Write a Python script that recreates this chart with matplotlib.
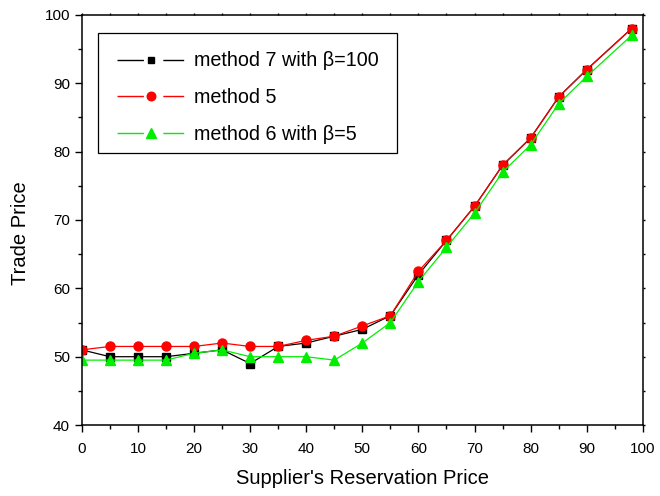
import matplotlib
matplotlib.use("Agg")
import matplotlib.pyplot as plt
from matplotlib.lines import Line2D
from matplotlib.patches import Rectangle
from matplotlib.legend_handler import HandlerTuple
from matplotlib.ticker import MultipleLocator

plt.rcParams["font.family"] = ["Liberation Sans", "DejaVu Sans"]

# supplier's reservation price
x = [0, 5, 10, 15, 20, 25, 30, 35, 40, 45, 50, 55, 60, 65, 70, 75, 80, 85, 90, 98]

# trade price per method
m7 = [51, 50, 50, 50, 50.5, 51, 49, 51.5, 52, 53, 54, 56, 62, 67, 72, 78, 82, 88, 92, 98]
m5 = [51, 51.5, 51.5, 51.5, 51.5, 52, 51.5, 51.5, 52.4, 53, 54.5, 56, 62.5, 67, 72, 78, 82, 88, 92, 98]
m6 = [49.5, 49.5, 49.5, 49.5, 50.5, 51, 50, 50, 50, 49.5, 52, 55, 61, 66, 71, 77, 81, 87, 91, 97]

labels = ["method 7 with \u03b2=100", "method 5", "method 6 with \u03b2=5"]
styles = [("black", "s", 5.3), ("#ff0000", "o", 6.5), ("#00ee00", "^", 7.5)]

fig = plt.figure(figsize=(6.6, 4.96), dpi=100)
ax = fig.add_axes([0.124, 0.143, 0.850, 0.827])

for y, lab, (c, m, ms) in zip([m7, m5, m6], labels, styles):
    ax.plot(x, y, color=c, lw=0.9, marker=m, ms=ms, label=lab)

ax.set_xlim(0, 100)
ax.set_ylim(40, 100)
ax.xaxis.set_major_locator(MultipleLocator(10))
ax.xaxis.set_minor_locator(MultipleLocator(5))
ax.yaxis.set_major_locator(MultipleLocator(10))
ax.yaxis.set_minor_locator(MultipleLocator(5))
ax.tick_params(which="both", direction="out", labelsize=11, width=1,
               top=True, right=True)
ax.tick_params(which="major", length=5)
ax.tick_params(which="minor", length=3)
ax.tick_params(axis="x", which="major", pad=7)
# tiny stubs on the top / right frame
for t in (ax.xaxis.get_major_ticks() + ax.xaxis.get_minor_ticks()
          + ax.yaxis.get_major_ticks() + ax.yaxis.get_minor_ticks()):
    t.tick2line.set_markersize(1.5)
for s in ax.spines.values():
    s.set_linewidth(1.1)

ax.set_xlabel("Supplier's Reservation Price", fontsize=14.5, labelpad=9.5)
ax.set_ylabel("Trade Price", fontsize=14.5)
ax.yaxis.set_label_coords(-0.093, 0.468)

# origin-style legend keys: line - marker - line
handles = []
for c, m, ms in styles:
    seg = Line2D([], [], color=c, lw=1, linestyle=(0, (19, 14, 15, 100)))
    mk = Line2D([], [], color=c, marker=m, ms=ms * 0.95, linestyle="none")
    handles.append((seg, mk))

ax.legend(handles, labels, handler_map={tuple: HandlerTuple(ndivide=1, pad=0)},
          loc="upper left", bbox_to_anchor=(0.028, 0.959), fontsize=14.2,
          numpoints=1, handlelength=3.4, handletextpad=0.5, borderpad=1.0,
          labelspacing=0.9, borderaxespad=0, frameon=False)
# legend frame drawn by hand (origin box is tighter at the bottom)
ax.add_patch(Rectangle((0.028, 0.663), 0.534, 0.293, transform=ax.transAxes,
                       fill=False, edgecolor="black", lw=0.9, zorder=5))

fig.savefig("out.png", dpi=100)
